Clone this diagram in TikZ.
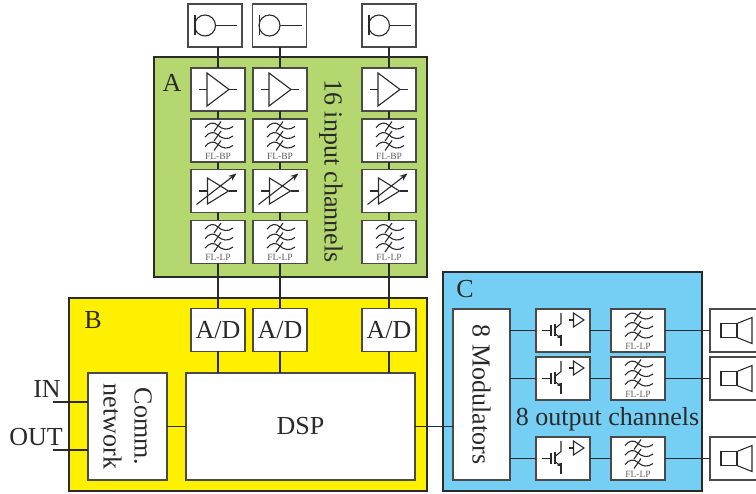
\documentclass[tikz,border=0pt]{standalone}
\usepackage{fontspec}
\setmainfont{Liberation Serif}
\usepackage{xcolor}
\usetikzlibrary{arrows.meta,positioning}
\definecolor{inkc}{HTML}{2B2A29}
\definecolor{panelA}{HTML}{B5D76F}
\definecolor{panelB}{HTML}{FFF000}
\definecolor{panelC}{HTML}{75CFF5}

\begin{document}
\begin{tikzpicture}[
  x=1pt, y=-1pt,
  every node/.style={font=\fontsize{26}{31}\selectfont, text=inkc},
  panel/.style={draw=inkc, line width=1.1pt, fill=#1, outer sep=0pt},
  box/.style={draw=inkc!85, line width=1.2pt, fill=white, minimum width=54pt,
              minimum height=43pt, inner sep=0pt, outer sep=0pt, align=center},
  conn/.style={draw=inkc, line width=1.1pt},
  sym/.style={draw=inkc, line width=1.1pt},
  tag/.style={font=\fontsize{9.5}{10}\selectfont, text=inkc!75},
  micsym/.pic={
    \draw[sym] (-10,0) circle (10.5);
    \draw[sym] (-20,-10) -- (-20,10);
    \draw[sym] (0.5,0) -- (22,0);
  },
  ampsym/.pic={
    \draw[sym] (-11,-16.5) -- (-11,16.5) -- (11,0) -- cycle;
    \draw[sym] (-19,0) -- (-11,0);
    \draw[sym] (11,0) -- (19,0);
  },
  varsym/.pic={
    \draw[sym] (-10.5,-13) -- (-10.5,13) -- (10.5,0) -- cycle;
    \draw[sym] (-19,0) -- (-10.5,0);
    \draw[sym] (10.5,0) -- (19,0);
    \draw[sym,-{Stealth[length=8pt,width=6pt]}] (-21.5,13.5) -- (18.5,-17.5);
  },
  wavesym/.pic={
    \foreach \w in {-15,-5.5,4}{
      \draw[sym] (-13,\w+2) .. controls (-9,\w-3) and (-4,\w-4) .. (0,\w)
        .. controls (4,\w+4) and (10,\w+5) .. (15,\w+1);
      \draw[sym] (-4,\w+6) -- (3,\w-4);
    }
  },
  igbtsym/.pic={
    \draw[sym] (-21,0) -- (-12,0);
    \draw[sym] (-12,-5) -- (-12,6);
    \draw[sym] (-8,-6) -- (-8,6);
    \draw[sym] (-8,-2) -- (-2,-7) -- (-2,-17.5);
    \draw[sym,-{Stealth[length=4pt,width=3.5pt]}] (-8,3) -- (-2,8);
    \draw[sym] (-2,5) -- (-2,16);
    \draw[sym] (10.5,-17.5) -- (10.5,-3.5) -- (21,-10.5) -- cycle;
    \draw[sym] (5.5,-10.5) -- (10.5,-10.5);
  },
  spksym/.pic={
    \draw[sym] (-16,-7) rectangle (0,7);
    \draw[sym] (0,-7) -- (15,-13) -- (15,13) -- (0,7);
  }
]
  \clip (0,0) rectangle (756,494);
  % Panels
  \node[panel=panelA, minimum width=273pt, minimum height=220pt] (panA) at (290.5,167) {};
  \node[panel=panelB, minimum width=358pt, minimum height=193pt] (panB) at (248,394.5) {};
  \node[panel=panelC, minimum width=259pt, minimum height=219pt] (panC) at (572.5,381.5) {};
  \node (labA) at (172,83) {A};
  \node (labB) at (93,320) {B};
  \node (labC) at (465,289) {C};
  % Main blocks
  \node[box, minimum width=229pt, minimum height=107pt] (dsp) at (300.5,426.5) {DSP};
  \node[box, rotate=-90, minimum width=107pt, minimum height=79pt] (comm) at (127.5,426.5) {Comm.\\network};
  \node[box, rotate=-90, minimum width=171pt, minimum height=57pt] (mod) at (481.5,394.5) {8 Modulators};
  % Input channels
  \foreach \c/\x/\m in {1/218/215,2/280/279.5,3/389/389}{
    \node[box] (mic\c) at (\m,25.5) {};
    \node[box] (amp\c) at (\x,89.5) {};
    \node[box, below=8pt of amp\c] (bp\c) {};
    \node[box, below=7.5pt of bp\c] (var\c) {};
    \node[box, below=8pt of var\c] (lp\c) {};
    \node[box] (ad\c) at (\x,330) {A/D};
    \pic at (mic\c) {micsym};
    \pic at (amp\c) {ampsym};
    \pic at (bp\c) {wavesym};
    \pic at (var\c) {varsym};
    \pic at (lp\c) {wavesym};
    \node[tag] (bpt\c) at ([yshift=-15.5pt]bp\c.center) {FL-BP};
    \node[tag] (lpt\c) at ([yshift=-15.5pt]lp\c.center) {FL-LP};
    \draw[conn] (amp\c) -- (amp\c |- mic\c.south);
    \draw[conn] (amp\c) -- (bp\c);
    \draw[conn] (bp\c) -- (var\c);
    \draw[conn] (var\c) -- (lp\c);
    \draw[conn] (lp\c) -- (ad\c);
    \draw[conn] (ad\c) -- (ad\c |- dsp.north);
  }
  % Output channels
  \foreach \r/\y in {1/330.5,2/378.5,3/458.5}{
    \node[box] (igbt\r) at (563,\y) {};
    \node[box, right=21pt of igbt\r] (lpo\r) {};
    \node[box, right=45pt of lpo\r] (spk\r) {};
    \pic at (igbt\r) {igbtsym};
    \pic at (lpo\r) {wavesym};
    \pic at (spk\r) {spksym};
    \node[tag] (lot\r) at ([yshift=-15.5pt]lpo\r.center) {FL-LP};
    \draw[conn] (igbt\r) -- (igbt\r -| mod.north);
    \draw[conn] (igbt\r) -- (lpo\r);
    \draw[conn] (lpo\r) -- (spk\r);
  }
  \node[rotate=-90] (inlab) at (331,171) {16 input channels};
  \node (outlab) at (607.5,419) {8 output channels};
  % Bus lines
  \draw[conn] (comm) -- (dsp);
  \draw[conn] (dsp) -- (dsp -| mod.south);
  \coordinate (inp) at (53,402);
  \coordinate (outp) at (53,450);
  \draw[conn] (inp) -- (inp -| comm.south);
  \draw[conn] (outp) -- (outp -| comm.south);
  \node[above=1pt of inp, xshift=-6pt] (intxt) {IN};
  \node[above=1pt of outp, xshift=-17pt] (outtxt) {OUT};
\end{tikzpicture}
\end{document}
